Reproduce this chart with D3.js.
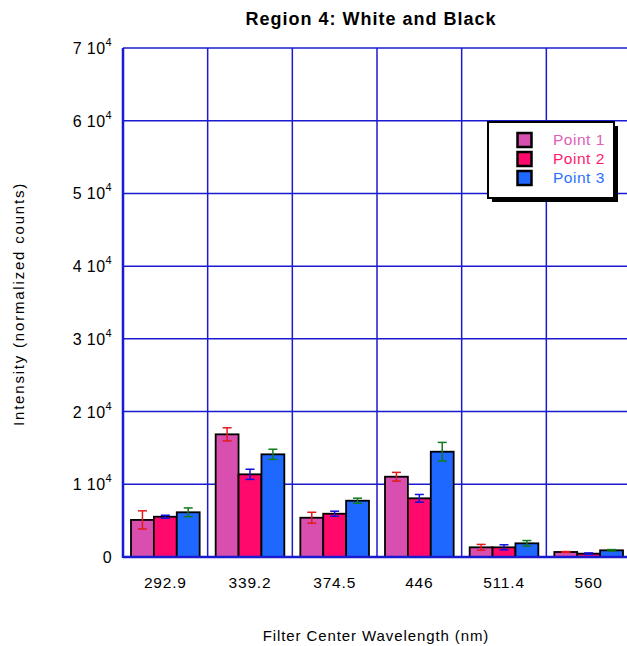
<!DOCTYPE html>
<html><head><meta charset="utf-8">
<script src="https://cdn.jsdelivr.net/npm/d3@7"></script>
<style>body{margin:0;background:#fff}svg{display:block}text{font-family:"Liberation Sans",Arial,sans-serif}</style>
</head><body>
<script>
const categories = ["292.9","339.2","374.5","446","511.4","560"];
const seriesNames = ["Point 1","Point 2","Point 3"];
const point1 = [5100,16870,5400,11040,1330,690];
const point2 = [5540,11370,5950,8070,1330,460];
const point3 = [6150,14120,7740,14480,1880,920];
const err1 = [1250,900,750,600,400,60];
const err2 = [200,700,350,530,350,100];
const err3 = [600,700,350,1280,380,100];
const yTicks = [0,1,2,3,4,5,6,7];

const W=627,H=646;
const m={l:123,r:W+4,t:48,b:557};
const barColors=["#d94fb0","#ff0a6c","#1f68ff"];
const textColors=["#e060b8","#ff1a6e","#2a70ff"];
const errColors=["#e31a1a","#1010dd","#127a1a"];
const grid="#1a1ad0";

const svg=d3.select("body").append("svg").attr("width",W).attr("height",H);
const x=d3.scaleBand().domain(categories).range([m.l,m.r]);
const xs=d3.scaleBand().domain(seriesNames).range([8,x.bandwidth()-8]);
const y=d3.scaleLinear().domain([0,70000]).range([m.b,m.t]);

// grid
const g=svg.append("g");
g.selectAll(".h").data(yTicks).join("line").attr("x1",m.l).attr("x2",W).attr("y1",d=>y(d*1e4)).attr("y2",d=>y(d*1e4)).attr("stroke",grid).attr("stroke-width",1.5);
g.selectAll(".v").data(categories).join("line").attr("x1",d=>x(d)).attr("x2",d=>x(d)).attr("y1",m.t).attr("y2",m.b).attr("stroke",grid).attr("stroke-width",1.5);

// bars
const series=[point1,point2,point3], errs=[err1,err2,err3];
series.forEach((s,si)=>{
  const gg=svg.append("g");
  gg.selectAll("rect").data(s).join("rect")
    .attr("x",(d,i)=>x(categories[i])+xs(seriesNames[si]))
    .attr("y",d=>y(d)).attr("width",xs.bandwidth()).attr("height",d=>y(0)-y(d))
    .attr("fill",barColors[si]).attr("stroke","#000").attr("stroke-width",1.8);
});
// error bars
series.forEach((s,si)=>{
  const gg=svg.append("g").attr("stroke",errColors[si]).attr("stroke-width",1.5);
  s.forEach((d,i)=>{
    const cx=x(categories[i])+xs(seriesNames[si])+xs.bandwidth()/2;
    const e=errs[si][i];
    gg.append("line").attr("x1",cx).attr("x2",cx).attr("y1",y(d+e)).attr("y2",y(d-e));
    gg.append("line").attr("x1",cx-4.5).attr("x2",cx+4.5).attr("y1",y(d+e)).attr("y2",y(d+e));
    gg.append("line").attr("x1",cx-4.5).attr("x2",cx+4.5).attr("y1",y(d-e)).attr("y2",y(d-e));
  });
});

// axes lines
svg.append("line").attr("x1",m.l).attr("x2",m.l).attr("y1",m.t).attr("y2",m.b+1).attr("stroke",grid).attr("stroke-width",2.5);
svg.append("line").attr("x1",m.l).attr("x2",W).attr("y1",m.b).attr("y2",m.b).attr("stroke",grid).attr("stroke-width",2.5);

// y tick labels
const yl=svg.append("g").attr("font-size",16).attr("fill","#000").attr("letter-spacing",0.4);
yTicks.forEach(t=>{
  const tx=yl.append("text").attr("x",112).attr("y",y(t*1e4)+6).attr("text-anchor","end");
  if(t===0){tx.text("0");}
  else{
    tx.text(t+" 10");
    tx.append("tspan").attr("dy",-8).attr("font-size",11).text("4");
  }
});
// x tick labels
svg.append("g").selectAll("text").data(categories).join("text")
  .attr("x",d=>x(d)+x.bandwidth()/2).attr("y",588).attr("text-anchor","middle").attr("font-size",15.5).attr("letter-spacing",0.8).text(d=>d);

// titles
svg.append("text").attr("x",371).attr("y",25).attr("text-anchor","middle").attr("font-size",18).attr("font-weight","bold").attr("letter-spacing",1).text("Region 4: White and Black");
svg.append("text").attr("x",376).attr("y",641).attr("text-anchor","middle").attr("font-size",15).attr("letter-spacing",0.9).text("Filter Center Wavelength (nm)");
svg.append("text").attr("transform","translate(24,304) rotate(-90)").attr("text-anchor","middle").attr("font-size",15).attr("letter-spacing",1.8).text("Intensity (normalized counts)");

// legend
const lg=svg.append("g");
lg.append("rect").attr("x",492).attr("y",126).attr("width",126).attr("height",76).attr("fill","#000");
lg.append("rect").attr("x",488).attr("y",122).attr("width",126).attr("height",76).attr("fill","#fff").attr("stroke","#000").attr("stroke-width",2);
seriesNames.forEach((n,i)=>{
  const yy=133+i*19;
  lg.append("rect").attr("x",517.5).attr("y",yy).attr("width",14).attr("height",14).attr("fill",barColors[i]).attr("stroke","#000").attr("stroke-width",2.5);
  lg.append("text").attr("x",553).attr("y",yy+12).attr("font-size",15.5).attr("letter-spacing",0.5).attr("fill",textColors[i]).text(n);
});
</script>
</body></html>
